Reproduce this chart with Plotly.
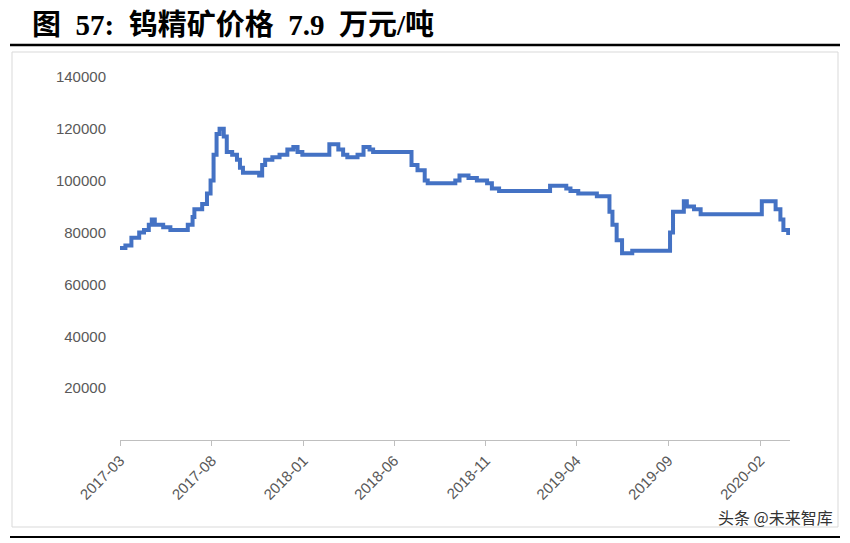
import plotly.graph_objects as go

dates = ["2017-03-01", "2017-03-10", "2017-03-20", "2017-04-02", "2017-04-10", "2017-04-18", "2017-04-23",
         "2017-04-28", "2017-05-12", "2017-05-24", "2017-06-14", "2017-06-22", "2017-06-30", "2017-07-03",
         "2017-07-16", "2017-07-24", "2017-07-30", "2017-08-04", "2017-08-09", "2017-08-14", "2017-08-21",
         "2017-08-26", "2017-09-04", "2017-09-12", "2017-09-17", "2017-09-22", "2017-10-12", "2017-10-19",
         "2017-10-24", "2017-10-29", "2017-11-10", "2017-11-22", "2017-12-05", "2017-12-15", "2017-12-22",
         "2017-12-30", "2018-02-02", "2018-02-13", "2018-02-23", "2018-02-28", "2018-03-08", "2018-03-15",
         "2018-04-01", "2018-04-11", "2018-04-21", "2018-04-27", "2018-06-26", "2018-06-30", "2018-07-10",
         "2018-07-22", "2018-07-27", "2018-09-03", "2018-09-11", "2018-09-18", "2018-10-03", "2018-10-17",
         "2018-11-03", "2018-11-11", "2018-11-23", "2019-02-08", "2019-02-16", "2019-03-15", "2019-03-22",
         "2019-04-04", "2019-04-30", "2019-05-05", "2019-05-21", "2019-05-26", "2019-05-31", "2019-06-07",
         "2019-06-16", "2019-06-28", "2019-07-03", "2019-09-01", "2019-09-04", "2019-09-09", "2019-09-21",
         "2019-09-27", "2019-10-02", "2019-10-14", "2019-10-25", "2020-01-27", "2020-02-04", "2020-02-18",
         "2020-02-27", "2020-03-06", "2020-03-11", "2020-03-19"]
prices = [74000, 75000, 78000, 80000, 81000, 83000, 85000,
          83000, 82000, 81000, 81000, 83000, 86000, 89000,
          91000, 95000, 100000, 110000, 118000, 120000, 117000,
          111000, 110000, 108000, 105000, 103000, 103000, 102000,
          106000, 108000, 109000, 110000, 112000, 113000, 111000,
          110000, 110000, 114000, 114000, 112000, 110000, 109000,
          110000, 113000, 112000, 111000, 111000, 106000, 104000,
          100000, 99000, 99000, 100000, 102000, 101000, 100000,
          99000, 97000, 96000, 96000, 98000, 97000, 96000,
          95000, 95000, 94000, 94000, 88000, 83000, 77000,
          72000, 72000, 73000, 73000, 80000, 88000, 88000,
          92000, 90000, 89000, 87000, 87000, 92000, 92000,
          89000, 85000, 81000, 79000]
tick_dates = ["2017-03-01", "2017-08-01", "2018-01-01", "2018-06-01", "2018-11-01",
              "2019-04-01", "2019-09-01", "2020-02-01"]
tick_labels = ["2017-03", "2017-08", "2018-01", "2018-06", "2018-11", "2019-04", "2019-09", "2020-02"]

# target pixel positions in the screenshot; the page itself is offset by 8px
OFF = 8
L, R, T, B = 120, 790, 60, 440
W, H = 850, 543
def px(x): return (x - L) / (R - L)
def py(y): return (B - y) / (B - T)

fig = go.Figure(go.Scatter(x=dates, y=prices, mode="lines", line_shape="hv",
                           line=dict(color="#4472C4", width=4)))
fig.update_layout(
    width=W, height=H, margin=dict(l=L - OFF, r=W - R + OFF, t=T - OFF, b=H - B + OFF),
    plot_bgcolor="white", paper_bgcolor="white", showlegend=False,
    font=dict(family="Liberation Sans, Noto Sans CJK SC", color="#595959", size=15),
    xaxis=dict(range=["2017-03-01", "2020-03-22"], tickvals=tick_dates, ticktext=tick_labels,
               tickangle=-45, showgrid=False, showline=True, linecolor="#BFBFBF",
               ticks="outside", tickcolor="#BFBFBF", ticklen=5, automargin=False),
    yaxis=dict(range=[0, 146500], tickvals=list(range(20000, 140001, 20000)), tickformat="d",
               showgrid=False, showline=False, zeroline=False, ticklen=10, ticks="outside",
               tickcolor="white", automargin=False),
    shapes=[
        dict(type="line", xref="paper", yref="paper", x0=px(10), x1=px(840), y0=py(45), y1=py(45),
             line=dict(color="black", width=2.5)),
        dict(type="rect", xref="paper", yref="paper", x0=px(12), x1=px(838), y0=py(52), y1=py(527),
             line=dict(color="#D9D9D9", width=1)),
        dict(type="line", xref="paper", yref="paper", x0=px(10), x1=px(840), y0=py(537), y1=py(537),
             line=dict(color="black", width=2)),
    ],
    annotations=[
        dict(text="<b>图  57:  钨精矿价格  7.9  万元/吨</b>", xref="paper", yref="paper",
             x=px(30), y=py(25), xanchor="left", yanchor="middle", showarrow=False,
             font=dict(family="Liberation Serif, Noto Sans CJK SC", size=29, color="black")),
        dict(text="头条 @未来智库", xref="paper", yref="paper", x=px(835), y=py(517),
             xanchor="right", yanchor="middle", showarrow=False,
             font=dict(family="Noto Sans CJK SC", size=16, color="#333333")),
    ],
)
fig.write_html("out.html")
